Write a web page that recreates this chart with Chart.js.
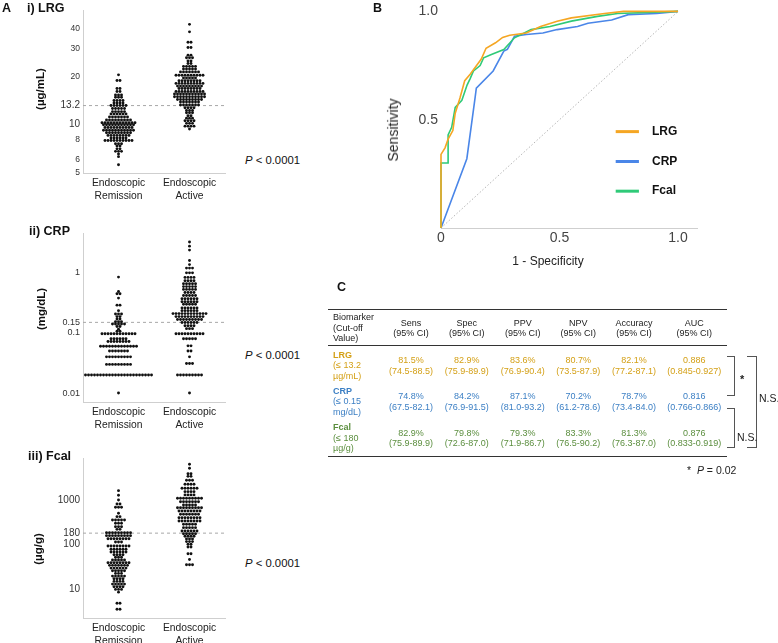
<!DOCTYPE html>
<html><head><meta charset="utf-8">
<script src="https://cdn.jsdelivr.net/npm/chart.js@4.4.0/dist/chart.umd.min.js"></script>
<style>
body{margin:0;width:778px;height:643px;position:relative;background:#fff;font-family:"Liberation Sans",Arial,sans-serif;overflow:hidden}
.t{position:absolute;white-space:nowrap;line-height:1.15}
canvas{position:absolute}
.rule{position:absolute;border-top:1.3px solid #333;height:0}
.br{position:absolute;border:1px solid #555;border-left:none}
</style></head><body>
<canvas id="cLRG" width="240" height="205" style="left:0;top:0"></canvas>
<canvas id="cCRP" width="240" height="214" style="left:0;top:220px"></canvas>
<canvas id="cFCAL" width="240" height="198" style="left:0;top:445px"></canvas>
<canvas id="cROC" width="408" height="280" style="left:370px;top:0"></canvas>
<div id="txt"></div>
<script>
const FONT = '"Liberation Sans", Arial, sans-serif';
// ---------- Panel A data (value levels, with dot counts per level) ----------
const CATS = [['Endoscopic','Remission'],['Endoscopic','Active']];
const lrgRemVals = [20.6,19.0,16.9,16.2,15.4,14.9,14.2,13.7,13.2,12.65,12.1,11.7,11.2,10.7,10.3,10.0,9.6,9.24,8.9,8.57,8.25,7.95,7.6,7.35,7.05,6.8,6.55,6.3,5.6];
const lrgRemCnt  = [1,2,2,2,3,3,4,4,6,5,5,6,7,9,12,11,10,11,9,8,6,10,3,2,2,3,1,1,1];
const lrgActVals = [42.8,38.4,33,30.6,27.4,26.4,25.2,24.3,23.3,22.4,21.5,20.5,19.7,18.9,18.2,17.5,16.9,16.2,15.6,15.0,14.4,13.9,13.3,12.8,12.3,11.9,11.4,11.0,10.6,10.2,9.8,9.4];
const lrgActCnt  = [1,1,2,2,2,3,2,2,5,5,7,10,5,8,10,9,8,10,11,11,9,7,7,4,3,3,2,3,4,3,4,1];
const crpRemVals = [0.85,0.49,0.45,0.38,0.29,0.235,0.207,0.187,0.171,0.154,0.141,0.128,0.115,0.107,0.097,0.08,0.072,0.06,0.05,0.04,0.03,0.02,0.01];
const crpRemCnt  = [1,1,2,1,2,1,3,2,2,3,5,2,1,2,12,6,8,13,7,9,9,23,1];
const crpActVals = [3.25,2.78,2.39,1.6,1.37,1.2,1.0,0.84,0.74,0.66,0.59,0.53,0.47,0.42,0.37,0.33,0.30,0.26,0.235,0.21,0.187,0.167,0.149,0.132,0.118,0.097,0.08,0.061,0.05,0.04,0.031,0.02,0.01];
const crpActCnt  = [1,1,1,1,1,3,3,4,4,5,5,5,4,5,6,6,5,6,6,12,10,9,6,4,3,10,5,2,2,1,3,9,1];
const fcalRemVals = [1620,1275,1000,813,686,502,422,355,299,251,219,184,158,135,114,92.5,78,68,59,51.5,45,39,34,29.5,25.7,22.4,19.5,17,14.8,12.9,11.2,9.8,8.5,4.8,3.5];
const fcalRemCnt  = [1,1,1,2,3,1,2,5,3,3,2,9,9,8,3,8,6,6,4,3,5,8,7,6,5,3,5,4,4,5,4,3,1,2,2];
const fcalActVals = [6340,5160,3900,3400,2770,2250,1830,1540,1300,1090,915,770,670,565,477,400,337,284,239,201,175,153,133,116,101,88,62,46,35];
const fcalActCnt  = [1,1,2,2,3,4,6,4,4,9,7,5,9,8,7,8,8,5,5,6,5,4,3,3,2,2,2,1,3];
const lrgTicks = [5,6,8,10,13.2,20,30,40];
const crpTicks = [0.01,0.1,0.15,1];
const fcalTicks = [10,100,180,1000];
const cutoffs = {LRG:13.2, CRP:0.15, FCAL:180};

// ---------- Panel B data (ROC curves) ----------
const lrgFpr = [0,0,0.017,0.03,0.05,0.06,0.08,0.10,0.123,0.15,0.17,0.19,0.23,0.26,0.29,0.36,0.42,0.49,0.55,0.69,0.77,1.0];
const lrgTpr = [0,0.34,0.37,0.41,0.45,0.53,0.60,0.68,0.71,0.75,0.78,0.83,0.855,0.88,0.89,0.90,0.93,0.955,0.97,0.99,1.0,1.0];
const crpFpr = [0,0.109,0.144,0.149,0.22,0.265,0.28,0.31,0.36,0.43,0.49,0.576,0.62,0.72,0.79,0.91,1.0];
const crpTpr = [0,0.32,0.603,0.646,0.725,0.817,0.825,0.885,0.893,0.90,0.916,0.93,0.945,0.96,0.985,0.99,1.0];
const fcalFpr = [0,0,0.03,0.03,0.045,0.06,0.088,0.11,0.123,0.137,0.165,0.18,0.21,0.265,0.31,0.38,0.46,0.55,0.66,0.745,1.0];
const fcalTpr = [0,0.30,0.30,0.43,0.465,0.557,0.59,0.66,0.69,0.725,0.75,0.786,0.80,0.824,0.878,0.916,0.93,0.955,0.977,0.99,1.0];
const rocLabels = ['LRG','CRP','Fcal'];

// ---------- Panel C data ----------
const tblCols = ['Sens','Spec','PPV','NPV','Accuracy','AUC'];
const lrgStats = ['81.5%','82.9%','83.6%','80.7%','82.1%','0.886'];
const lrgCI    = ['(74.5-88.5)','(75.9-89.9)','(76.9-90.4)','(73.5-87.9)','(77.2-87.1)','(0.845-0.927)'];
const crpStats = ['74.8%','84.2%','87.1%','70.2%','78.7%','0.816'];
const crpCI    = ['(67.5-82.1)','(76.9-91.5)','(81.0-93.2)','(61.2-78.6)','(73.4-84.0)','(0.766-0.866)'];
const fcalStats= ['82.9%','79.8%','79.3%','83.3%','81.3%','0.876'];
const fcalCI   = ['(75.9-89.9)','(72.6-87.0)','(71.9-86.7)','(76.5-90.2)','(76.3-87.0)','(0.833-0.919)'];
const lrgLabel = ['LRG','(≤ 13.2','µg/mL)'];
const crpLabel = ['CRP','(≤ 0.15','mg/dL)'];
const fcalLabel= ['Fcal','(≤ 180','µg/g)'];

const C_LRG='#F5A623', C_CRP='#4A86E8', C_FCAL='#2FCA78';
const T_LRG='#D4A017', T_CRP='#3B7FC4', T_FCAL='#5B8E3E';

// ---------- helpers ----------
const TX = document.getElementById('txt');
function T(html,x,y,o={}){
  const d=document.createElement('div'); d.className='t'; d.innerHTML=html;
  const a=o.anchor||'c';
  const tx=a==='l'?'0':a==='r'?'-100%':'-50%';
  d.style.left=x+'px'; d.style.top=y+'px';
  d.style.fontSize=(o.size||10)+'px';
  d.style.fontWeight=o.bold?'bold':'normal';
  d.style.color=o.color||'#222';
  d.style.transform='translate('+tx+',-50%)'+(o.rot?' rotate(-90deg)':'');
  TX.appendChild(d);
}
const PITCH=3;
function swarm(vals,cnts,gi,ppu){
  const pts=[];
  vals.forEach((v,k)=>{const n=cnts[k];for(let i=0;i<n;i++){pts.push({x:gi+(i-(n-1)/2)*PITCH/ppu,y:v});}});
  return pts;
}
const cutoffPlugin={id:'cutoff',beforeDatasetsDraw(chart,args,opts){
  const {ctx,chartArea:a,scales:{y}}=chart; const py=y.getPixelForValue(opts.value);
  ctx.save();ctx.strokeStyle='#a8a8a8';ctx.lineWidth=1;ctx.setLineDash([3,3]);
  ctx.beginPath();ctx.moveTo(a.left,py);ctx.lineTo(a.right,py);ctx.stroke();ctx.restore();
}};
const NOGRID={display:false,drawTicks:false};
function dotChart(id,c){
  const chart=new Chart(document.getElementById(id),{
    type:'scatter',
    data:{datasets:[{data:[],pointRadius:1.45,pointBackgroundColor:'#111',pointBorderWidth:0,pointHoverRadius:1.45}]},
    options:{responsive:false,animation:false,events:[],
      layout:{padding:{top:c.padTop,right:15,left:0,bottom:0}},
      plugins:{legend:{display:false},tooltip:{enabled:false},cutoff:{value:c.cut}},
      scales:{
        x:{type:'linear',min:-0.5,max:1.5,bounds:'data',grid:NOGRID,border:{display:true,color:'#cfcfcf'},
          afterBuildTicks:s=>{s.ticks=[{value:0},{value:1}];},
          afterFit:s=>{s.height=c.xh;},
          ticks:{autoSkip:false,maxRotation:0,padding:4,color:'#222',font:{size:10.3,family:FONT,lineHeight:1.26},callback:(v,i)=>CATS[i]}},
        y:{type:'logarithmic',min:c.min,max:c.max,bounds:'data',grid:NOGRID,border:{display:true,color:'#cfcfcf'},
          afterBuildTicks:s=>{s.ticks=c.ticks.map(v=>({value:v}));},
          afterFit:s=>{s.width=83;},
          ticks:{autoSkip:false,padding:3,color:'#333',
            font:ctx=>({size:(ctx.tick&&c.big.includes(ctx.tick.value))?c.bigSize:c.size,family:FONT}),
            callback:v=>String(v)}}
      }},
    plugins:[cutoffPlugin]
  });
  const sx=chart.scales.x; const ppu=(sx.right-sx.left)/(sx.max-sx.min);
  chart.data.datasets[0].data=[...swarm(c.rem[0],c.rem[1],0,ppu),...swarm(c.act[0],c.act[1],1,ppu)];
  chart.update('none');
}
dotChart('cLRG',{padTop:10,xh:32,min:4.97,max:52.7,ticks:lrgTicks,big:[13.2,10],bigSize:10,size:8.5,cut:cutoffs.LRG,
  rem:[lrgRemVals,lrgRemCnt],act:[lrgActVals,lrgActCnt]});
dotChart('cCRP',{padTop:13,xh:32,min:0.0071,max:4.6,ticks:crpTicks,big:[],bigSize:9,size:9,cut:cutoffs.CRP,
  rem:[crpRemVals,crpRemCnt],act:[crpActVals,crpActCnt]});
dotChart('cFCAL',{padTop:13,xh:25,min:2.23,max:8780,ticks:fcalTicks,big:[],bigSize:10,size:10,cut:cutoffs.FCAL,
  rem:[fcalRemVals,fcalRemCnt],act:[fcalActVals,fcalActCnt]});

// ---------- ROC ----------
const zip=(a,b)=>a.map((v,i)=>({x:v,y:b[i]}));
const rocColors=[C_LRG,C_CRP,C_FCAL];
const legendPlugin={id:'rocLegend',afterDatasetsDraw(chart){
  const {ctx,scales:{x,y}}=chart; const ys=[0.445,0.307,0.17];
  ctx.save();
  rocLabels.forEach((lab,i)=>{
    const py=y.getPixelForValue(ys[i]);
    ctx.strokeStyle=rocColors[i];ctx.lineWidth=3;
    ctx.beginPath();ctx.moveTo(x.getPixelForValue(0.737),py);ctx.lineTo(x.getPixelForValue(0.835),py);ctx.stroke();
    ctx.fillStyle='#111';ctx.font='bold 12px '+FONT;ctx.textBaseline='middle';ctx.textAlign='left';
    ctx.fillText(lab,x.getPixelForValue(0.89),py);
  });
  ctx.restore();
}};
new Chart(document.getElementById('cROC'),{
  type:'scatter',
  data:{datasets:[
    {label:'LRG',data:zip(lrgFpr,lrgTpr),showLine:true,borderColor:C_LRG,borderWidth:1.6,pointRadius:0,order:0,clip:false},
    {label:'CRP',data:zip(crpFpr,crpTpr),showLine:true,borderColor:C_CRP,borderWidth:1.6,pointRadius:0,order:2,clip:false},
    {label:'Fcal',data:zip(fcalFpr,fcalTpr),showLine:true,borderColor:C_FCAL,borderWidth:1.6,pointRadius:0,order:1,clip:false},
    {label:'ref',data:[{x:0,y:0},{x:1,y:1}],showLine:true,borderColor:'#b5b5b5',borderDash:[1.5,2],borderWidth:1,pointRadius:0,order:3}
  ]},
  options:{responsive:false,animation:false,events:[],
    layout:{padding:{top:10,right:81,left:0,bottom:0}},
    plugins:{legend:{display:false},tooltip:{enabled:false}},
    scales:{
      x:{type:'linear',min:0,max:1.08,bounds:'data',grid:NOGRID,border:{display:true,color:'#cfcfcf'},
        afterBuildTicks:s=>{s.ticks=[{value:0},{value:0.5},{value:1}];},
        afterFit:s=>{s.height=52;},
        ticks:{autoSkip:false,maxRotation:0,padding:2,color:'#444',font:{size:14,family:FONT},callback:v=>v===0?'0':v.toFixed(1)}},
      y:{type:'linear',min:0,max:1,bounds:'data',grid:NOGRID,border:{display:false},
        afterBuildTicks:s=>{s.ticks=[{value:0.5},{value:1}];},
        afterFit:s=>{s.width=71;},
        ticks:{autoSkip:false,padding:3,color:'#444',font:{size:14,family:FONT},callback:v=>v.toFixed(1)}}
    }},
  plugins:[legendPlugin]
});

// ---------- Text: panel A ----------
T('A',2,8,{size:12.5,bold:true,anchor:'l',color:'#111'});
T('i) LRG',27,8,{size:12.5,bold:true,anchor:'l',color:'#111'});
T('ii) CRP',29,231,{size:12.5,bold:true,anchor:'l',color:'#111'});
T('iii) Fcal',28,456,{size:12.5,bold:true,anchor:'l',color:'#111'});
T('(µg/mL)',41,89,{size:11.5,bold:true,rot:true,color:'#111'});
T('(mg/dL)',42,309,{size:11.5,bold:true,rot:true,color:'#111'});
T('(µg/g)',39,549,{size:11.5,bold:true,rot:true,color:'#111'});
[160,355,563].forEach(y=>T('<i>P</i> &lt; 0.0001',245,y,{size:11.3,anchor:'l',color:'#111'}));
// ---------- Text: panel B ----------
T('B',373,8,{size:12.5,bold:true,anchor:'l',color:'#111'});
T('Sensitivity',393,130,{size:14,rot:true,color:'#222'});
T('1 - Specificity',548,262,{size:12,color:'#222'});
// ---------- Panel C table ----------
T('C',337,287,{size:12.5,bold:true,anchor:'l',color:'#111'});
function rule(y){const d=document.createElement('div');d.className='rule';d.style.left='328px';d.style.width='399px';d.style.top=y+'px';TX.appendChild(d);}
rule(308.5);rule(345);rule(456);
const colX=[411,466.7,522.7,578.3,634,694.3];
const FS=9;
['Biomarker','(Cut-off','Value)'].forEach((s,i)=>T(s,333,317+i*10.5,{size:FS,anchor:'l'}));
tblCols.forEach((c,i)=>{T(c,colX[i],323,{size:FS});T('(95% CI)',colX[i],333,{size:FS});});
const rows=[[lrgLabel,lrgStats,lrgCI,T_LRG,354.5],[crpLabel,crpStats,crpCI,T_CRP,390.5],[fcalLabel,fcalStats,fcalCI,T_FCAL,427]];
rows.forEach(([lab,st,ci,col,y0])=>{
  lab.forEach((s,i)=>T(s,333,y0+i*10.5,{size:FS,anchor:'l',color:col,bold:i===0}));
  st.forEach((s,i)=>{T(s,colX[i],y0+5.5,{size:FS,color:col});T(ci[i],colX[i],y0+16,{size:FS,color:col});});
});
function br(x,y,w,h){const d=document.createElement('div');d.className='br';d.style.left=x+'px';d.style.top=y+'px';d.style.width=w+'px';d.style.height=h+'px';TX.appendChild(d);}
br(727,356,7,38);br(727,408,7,38);br(747,356,8.5,90);
T('*',740,379,{size:11,bold:true,anchor:'l',color:'#222'});
T('N.S.',737,436.5,{size:10.5,anchor:'l',color:'#222'});
T('N.S.',759,398,{size:10.5,anchor:'l',color:'#222'});
T('*&nbsp; <i>P</i> = 0.02',687,469.5,{size:10.5,anchor:'l',color:'#222'});
</script>
</body></html>
